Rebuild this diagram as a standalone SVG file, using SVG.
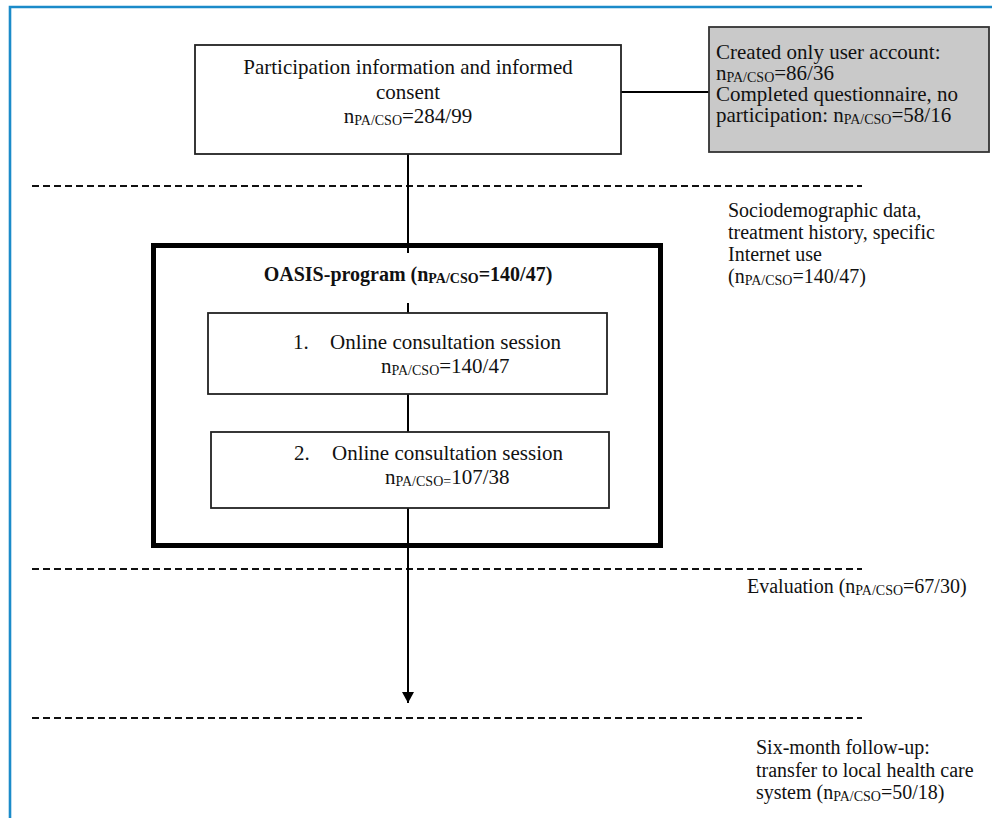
<svg xmlns="http://www.w3.org/2000/svg" width="992" height="818" viewBox="0 0 992 818">
  <style>
    .t { font-family: "Liberation Serif", "Times New Roman", serif; font-size: 21px; fill: #111; }
    .s { font-family: "Liberation Serif", "Times New Roman", serif; font-size: 20px; fill: #111; }
    .b { font-weight: bold; font-size: 20px; }
    .sub { font-size: 14px; }
    .box { fill: #fff; stroke: #222; stroke-width: 1.8; }
    .grey { fill: #c9c9c9; stroke: #333; stroke-width: 1.8; }
    .thick { fill: none; stroke: #000; stroke-width: 5; }
    .line { stroke: #000; stroke-width: 2; fill: none; }
    .dash { stroke: #111; stroke-width: 2; stroke-dasharray: 7 4; fill: none; }
  </style>
  <defs>
    <marker id="arrow" markerWidth="12" markerHeight="12" refX="11" refY="6" orient="auto" markerUnits="userSpaceOnUse">
      <path d="M0,0 L11,6 L0,12 Z" fill="#000"/>
    </marker>
  </defs>

  <rect width="992" height="818" fill="#fff"/>
  <!-- frame -->
  <path d="M10,818 L10,7 L992,7" fill="none" stroke="#1b8bc9" stroke-width="2.6"/>

  <!-- phase separators -->
  <g id="separators">
    <line class="dash" x1="32" y1="186" x2="862" y2="186"/>
    <line class="dash" x1="32" y1="569" x2="862" y2="569"/>
    <line class="dash" x1="32" y1="718" x2="862" y2="718"/>
  </g>

  <!-- connectors -->
  <g id="connectors">
    <line class="line" x1="621" y1="92" x2="709" y2="92"/>
    <line class="line" x1="408" y1="154" x2="408" y2="253"/>
    <line class="line" x1="408" y1="303" x2="408" y2="313"/>
    <line class="line" x1="408" y1="394" x2="408" y2="432"/>
    <line class="line" x1="408" y1="508" x2="408" y2="703" marker-end="url(#arrow)"/>
  </g>

  <g id="consent">
    <rect class="box" x="195" y="45" width="426" height="109"/>
    <text class="t" x="408" y="74" text-anchor="middle">Participation information and informed</text>
    <text class="t" x="408" y="98.5" text-anchor="middle">consent</text>
    <text class="t" x="408" y="123" text-anchor="middle">n<tspan class="sub" dy="2">PA/CSO</tspan><tspan dy="-2">=284/99</tspan></text>
  </g>

  <g id="dropouts">
    <rect class="grey" x="709" y="27" width="280" height="125"/>
    <text class="t" x="716" y="59">Created only user account:</text>
    <text class="t" x="716" y="80">n<tspan class="sub" dy="2">PA/CSO</tspan><tspan dy="-2">=86/36</tspan></text>
    <text class="t" x="716" y="101">Completed questionnaire, no</text>
    <text class="t" x="716" y="122">participation: n<tspan class="sub" dy="2">PA/CSO</tspan><tspan dy="-2">=58/16</tspan></text>
  </g>

  <g id="oasis">
    <rect class="thick" x="153.5" y="245.5" width="507" height="300"/>
    <text class="t b" x="408" y="281" text-anchor="middle">OASIS-program (n<tspan class="sub" dy="2">PA/CSO</tspan><tspan dy="-2">=140/47)</tspan></text>
  </g>

  <g id="session1">
    <rect class="box" x="208" y="313" width="399" height="81"/>
    <text class="t" x="293" y="349">1.</text>
    <text class="t" x="330" y="349">Online consultation session</text>
    <text class="t" x="381" y="373">n<tspan class="sub" dy="2">PA/CSO</tspan><tspan dy="-2">=140/47</tspan></text>
  </g>

  <g id="session2">
    <rect class="box" x="211" y="432" width="398" height="76"/>
    <text class="t" x="294" y="460">2.</text>
    <text class="t" x="332" y="460">Online consultation session</text>
    <text class="t" x="385" y="484">n<tspan class="sub" dy="2">PA/CSO=</tspan><tspan dy="-2">107/38</tspan></text>
  </g>

  <g id="baseline-data">
    <text class="s" x="728" y="217">Sociodemographic data,</text>
    <text class="s" x="728" y="239">treatment history, specific</text>
    <text class="s" x="728" y="261">Internet use</text>
    <text class="s" x="728" y="283">(n<tspan class="sub" dy="2">PA/CSO</tspan><tspan dy="-2">=140/47)</tspan></text>
  </g>

  <g id="evaluation">
    <text class="s" x="747" y="593">Evaluation (n<tspan class="sub" dy="2">PA/CSO</tspan><tspan dy="-2">=67/30)</tspan></text>
  </g>

  <g id="follow-up">
    <text class="s" x="756" y="754">Six-month follow-up:</text>
    <text class="s" x="756" y="777">transfer to local health care</text>
    <text class="s" x="756" y="799">system (n<tspan class="sub" dy="2">PA/CSO</tspan><tspan dy="-2">=50/18)</tspan></text>
  </g>
</svg>
